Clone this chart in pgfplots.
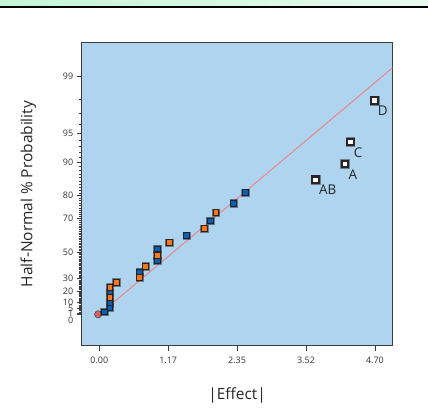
\documentclass[border=0pt]{standalone}
\usepackage{fontspec}
\setmainfont{Open Sans}
\usepackage{pgfplots}
\usepackage{pgfplotstable}
\pgfplotsset{compat=1.18}

\definecolor{bgblue}{RGB}{174,212,240}
\definecolor{ptblue}{RGB}{12,96,170}
\definecolor{ptorange}{RGB}{240,120,32}
\definecolor{fitline}{RGB}{240,128,128}
\definecolor{errred}{RGB}{214,98,102}
\definecolor{framegray}{RGB}{60,60,60}
\definecolor{bandgreen}{RGB}{196,246,214}
\definecolor{bandlight}{RGB}{232,250,240}

% half-normal plot: y is the half-normal quantile z, labelled in percent
\pgfplotstableread{
x z
0.085 0.0261
0.18 0.0784
0.18 0.1307
0.18 0.2372
0.69 0.4597
0.99 0.5791
0.99 0.7080
1.49 0.8493
1.89 1.0100
2.29 1.2028
2.49 1.3180
}\bluepts

\pgfplotstableread{
x z
0.18 0.1834
0.18 0.2915
0.29 0.3463
0.69 0.4021
0.79 0.5187
0.99 0.6414
1.19 0.7764
1.79 0.9264
1.99 1.1015
}\orangepts

\pgfplotstableread{
x z lab
3.69 1.4545 AB
4.19 1.6250 A
4.28 1.8627 C
4.69 2.3109 D
}\effects

\begin{document}
\begin{tikzpicture}
\useasboundingbox (0,0) rectangle (428bp,419bp);
\fill[left color=bandgreen, right color=bandlight] (0,413bp) rectangle (428bp,419bp);
\fill[black] (0,411.2bp) rectangle (428bp,413.3bp);

\begin{axis}[
    at={(81.7bp,73.3bp)}, anchor=south west,
    scale only axis,
    width=310.8bp, height=303.4bp,
    xmin=-0.30, xmax=5.0,
    ymin=-0.339, ymax=2.941,
    axis background/.style={fill=bgblue},
    axis line style={framegray, line width=1bp},
    tick align=outside,
    xtick pos=left, ytick pos=left,
    major tick length=5bp, minor tick length=3bp,
    every tick/.style={framegray, line width=0.8bp},
    xtick={0,1.175,2.35,3.525,4.70},
    xticklabels={0.00,1.17,2.35,3.52,4.70},
    ytick={0,0.0125,0.0627,0.1257,0.2533,0.3853,0.6745,1.0364,1.2816,1.6449,1.9600,2.5758},
    yticklabels={\smash{\raisebox{-9.5bp}{0}},1,5,10,20,30,50,70,80,90,95,99},
    minor ytick={0.0251,0.0376,0.0502,0.0753,0.0878,0.1004,0.1130,
      0.1383,0.1510,0.1637,0.1764,0.1891,0.2019,0.2147,0.2275,0.2404,
      0.2663,0.2793,0.2924,0.3055,0.3186,0.3319,0.3451,0.3585,0.3719,
      0.3989,0.4125,0.4261,0.4399,0.4538,0.4677,0.4817,0.4959,0.5101,0.5244,
      0.5388,0.5534,0.5681,0.5828,0.5978,0.6128,0.6280,0.6433,0.6588,
      0.6903,0.7063,0.7225,0.7388,0.7554,0.7722,0.7892,0.8064,0.8239,0.8416,
      0.8596,0.8779,0.8965,0.9154,0.9346,0.9542,0.9741,0.9945,1.0152,
      1.0581,1.0803,1.1031,1.1264,1.1503,1.1750,1.2004,1.2265,1.2536,
      1.3106,1.3408,1.3722,1.4051,1.4395,1.4758,1.5141,1.5548,1.5982,
      1.6954,1.7507,1.8119,1.8808,2.0537,2.1701,2.3263},
    ticklabel style={font=\fontsize{9}{10}\selectfont, text=black!80},
    xticklabel style={yshift=-3bp},
    /pgf/number format/assume math mode=true,
    xlabel={|Effect|},
    ylabel={Half-Normal \% Probability},
    xlabel style={at={(axis description cs:0.5,-0.1625)}, anchor=center,
      font=\fontsize{15.5}{16}\selectfont, text=black!85},
    ylabel style={at={(axis description cs:-0.172,0.5)}, anchor=center,
      font=\fontsize{15.5}{16}\selectfont, text=black!85},
]
\addplot[fitline, line width=0.9bp] coordinates {(0,0) (5.0,2.665)};

% error estimate
\addplot[only marks, mark=*, mark size=3.6bp,
  mark options={fill=errred, draw=black!70, line width=0.6bp}] coordinates {(-0.02,0)};

% halos
\addplot[only marks, mark=square*, mark size=3.7bp,
  mark options={fill=gray, draw=none, opacity=0.4}] table[x=x,y=z] {\bluepts};
\addplot[only marks, mark=square*, mark size=3.7bp,
  mark options={fill=gray, draw=none, opacity=0.4}] table[x=x,y=z] {\orangepts};
\addplot[only marks, mark=square*, mark size=4.4bp,
  mark options={fill=gray, draw=none, opacity=0.4}] table[x=x,y=z] {\effects};

\addplot[only marks, mark=square*, mark size=2.9bp,
  mark options={fill=ptblue, draw={rgb,255:red,25;green,35;blue,55}, line width=0.8bp}]
  table[x=x,y=z] {\bluepts};
\addplot[only marks, mark=square*, mark size=2.9bp,
  mark options={fill=ptorange, draw={rgb,255:red,55;green,30;blue,15}, line width=0.8bp}]
  table[x=x,y=z] {\orangepts};
\addplot[only marks, mark=square*, mark size=3.3bp,
  mark options={fill=white, draw={rgb,255:red,45;green,35;blue,35}, line width=2.1bp},
  point meta=explicit symbolic,
  nodes near coords,
  nodes near coords style={anchor=north west, inner sep=0pt, xshift=2.5bp, yshift=-4.5bp,
    font=\fontsize{13.5}{14}\selectfont, text=black!85}]
  table[x=x,y=z,meta=lab] {\effects};
\end{axis}
\end{tikzpicture}
\end{document}
